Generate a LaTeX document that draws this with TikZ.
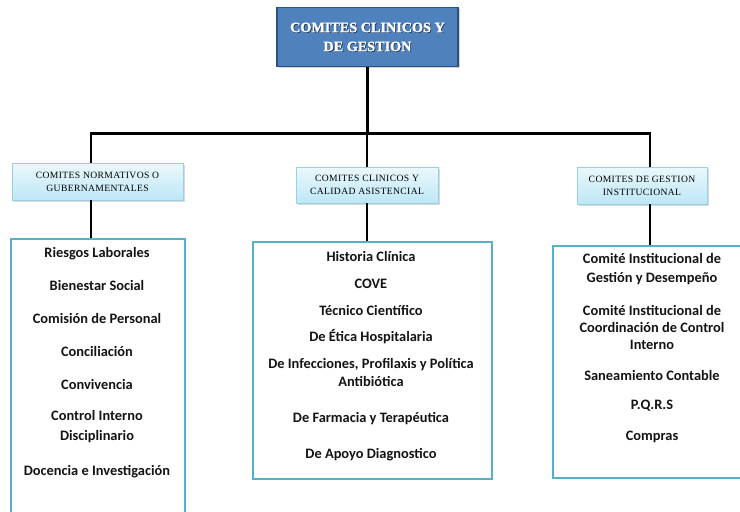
\documentclass[tikz,border=0pt]{standalone}
\usepackage{fontspec}
\setmainfont{Liberation Serif}
\newfontfamily\calib{Carlito}
\newfontfamily\topfont[BoldFeatures={FakeBold=1.8}]{Liberation Serif}
\newfontfamily\midfont[LetterSpace=4]{Liberation Serif}
\usetikzlibrary{shadows}
\definecolor{topblue}{HTML}{4F81BD}
\definecolor{topedge}{HTML}{2C4F86}
\definecolor{midfill}{HTML}{BDE7F6}
\definecolor{midedge}{HTML}{9ACFE4}
\definecolor{bigedge}{HTML}{5AAFC8}
\tikzset{
  topbox/.style={draw=topedge, line width=1.6pt, fill=topblue, minimum width=181pt, minimum height=59pt, inner sep=0pt,
    drop shadow={shadow xshift=1.5pt, shadow yshift=-1.5pt, opacity=0.35}},
  midbox/.style={draw=midedge, line width=0.6pt, top color=white!70!midfill, bottom color=midfill, inner sep=0pt,
    drop shadow={shadow xshift=1.5pt, shadow yshift=-1.5pt, opacity=0.3}},
  bigbox/.style={draw=bigedge, line width=2pt, fill=white, inner sep=0pt},
  midtxt/.style={font=\midfont\fontsize{9.6}{13}\selectfont, align=center, text=black},
  item/.style={font=\calib\bfseries\fontsize{14.4}{20}\selectfont, align=center, text=black!92},
  itemone/.style={item, text height=10pt, text depth=3pt},
  conn/.style={draw=black, line width=2.4pt}
}
\begin{document}
\begin{tikzpicture}[x=1pt,y=-1pt]
\useasboundingbox (0,0) rectangle (740,512);
\clip (0,0) rectangle (740,512);
% connectors
\coordinate (bus) at (367,133.5);
\coordinate (bl) at (91,133.5);
\coordinate (br) at (650,133.5);
% boxes
\node[topbox] (top) at (367.5,37) {};
\node[font=\topfont\bfseries\fontsize{14.2}{19}\selectfont, align=center, text=topedge!60!black] at (368.2,37.7) {COMITES CLINICOS Y\\DE GESTION};
\node[font=\topfont\bfseries\fontsize{14.2}{19}\selectfont, align=center, text=white] (toptxt) at (367.5,37) {COMITES CLINICOS Y\\DE GESTION};

\node[midbox, minimum width=171pt, minimum height=37pt] (m1) at (97.5,181.5) {};
\node[midbox, minimum width=142pt, minimum height=36pt] (m2) at (367,185) {};
\node[midbox, minimum width=130pt, minimum height=37pt] (m3) at (642,185.5) {};

\node[bigbox, minimum width=174pt, minimum height=290pt, anchor=north west] (b1) at (10,238) {};
\node[bigbox, minimum width=239pt, minimum height=237pt, anchor=north west] (b2) at (252,241) {};
\node[bigbox, minimum width=200pt, minimum height=232pt, anchor=north west] (b3) at (552,245) {};

\draw[conn] (top.south) -- (top.south |- bus);
\draw[conn] (bl |- m1.north) -- (bl) -- (br) -- (br |- m3.north);
\draw[conn] (m2.north -| bus) -- (bus);
\draw[conn] (bl |- m1.south) -- (bl |- b1.north);
\draw[conn] (m2.south -| bus) -- (bus |- b2.north);
\draw[conn] (br |- m3.south) -- (br |- b3.north);

\node[midtxt] (m1t) at (m1.center) {COMITES NORMATIVOS O\\GUBERNAMENTALES};
\node[midtxt] (m2t) at (m2.center) {COMITES CLINICOS Y\\CALIDAD ASISTENCIAL};
\node[midtxt] (m3t) at (m3.center) {COMITES DE GESTION\\INSTITUCIONAL};

% left items
\node[itemone] (l1) at (97,253.5) {Riesgos Laborales};
\node[itemone] (l2) at (97,286.5) {Bienestar Social};
\node[itemone] (l3) at (97,319.5) {Comisión de Personal};
\node[itemone] (l4) at (97,352.5) {Conciliación};
\node[itemone] (l5) at (97,385.5) {Convivencia};
\node[item] (l6) at (97,427) {Control Interno\\Disciplinario};
\node[itemone] (l7) at (97,471.5) {Docencia e Investigación};
% middle items
\node[itemone] (c1) at (371,257.5) {Historia Clínica};
\node[itemone] (c2) at (371,284.5) {COVE};
\node[itemone] (c3) at (371,311.5) {Técnico Científico};
\node[itemone] (c4) at (371,337.5) {De Ética Hospitalaria};
\node[item, font=\calib\bfseries\fontsize{14.4}{17.5}\selectfont] (c5) at (371,372.5) {De Infecciones, Profilaxis y Política\\Antibiótica};
\node[itemone] (c6) at (371,418.5) {De Farmacia y Terapéutica};
\node[itemone] (c7) at (371,454.5) {De Apoyo Diagnostico};
% right items
\node[item, font=\calib\bfseries\fontsize{14.4}{19}\selectfont] (r1) at (652,269.5) {Comité Institucional de\\Gestión y Desempeño};
\node[item, font=\calib\bfseries\fontsize{14.4}{17}\selectfont] (r2) at (652,327) {Comité Institucional de\\Coordinación de Control\\Interno};
\node[itemone] (r3) at (652,376.5) {Saneamiento Contable};
\node[itemone] (r4) at (652,405.5) {P.Q.R.S};
\node[itemone] (r5) at (652,436.5) {Compras};
\end{tikzpicture}
\end{document}
